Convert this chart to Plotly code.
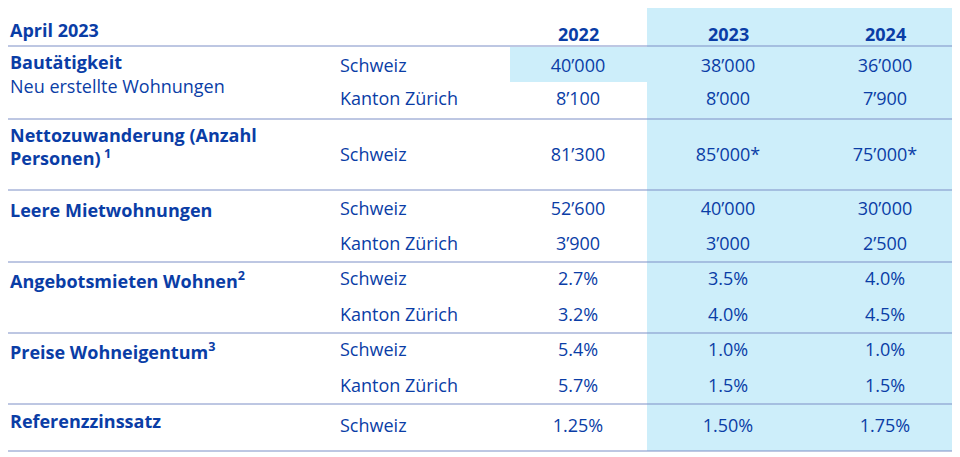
import plotly.graph_objects as go

years = ["2022", "2023", "2024"]
sections = ["Bautätigkeit", "Nettozuwanderung (Anzahl<br>Personen)<sup> 1</sup>", "Leere Mietwohnungen",
            "Angebotsmieten Wohnen<sup>2</sup>", "Preise Wohneigentum<sup>3</sup>", "Referenzzinssatz"]
regions = ["Schweiz", "Kanton Zürich", "Schweiz", "Schweiz", "Kanton Zürich", "Schweiz", "Kanton Zürich",
           "Schweiz", "Kanton Zürich", "Schweiz"]
v2022 = ["40’000", "8’100", "81’300", "52’600", "3’900", "2.7%", "3.2%", "5.4%", "5.7%", "1.25%"]
v2023 = ["38’000", "8’000", "85’000*", "40’000", "3’000", "3.5%", "4.0%", "1.0%", "1.5%", "1.50%"]
v2024 = ["36’000", "7’900", "75’000*", "30’000", "2’500", "4.0%", "4.5%", "1.0%", "1.5%", "1.75%"]

# layout (pixels)
row_y = [67, 100, 156, 210, 245, 280, 316, 351, 387, 427]
sec_y = [62, 146, 210, 280, 351, 421]
rule_y = [46, 119, 190, 262, 333, 404, 451]
col_x = [578, 728, 885]
blue = "#0a3da6"
shade = "#cdeefa"
font = dict(size=18, color=blue, family="Open Sans")

fig = go.Figure()
for xs, vals in zip(col_x, [v2022, v2023, v2024]):
    fig.add_trace(go.Scatter(x=[xs] * len(vals), y=row_y, text=vals, mode="text", textfont=font,
                             textposition="middle center", hoverinfo="skip"))
fig.add_trace(go.Scatter(x=[340] * len(regions), y=row_y, text=regions, mode="text", textfont=font,
                         textposition="middle right", hoverinfo="skip"))

shapes = [dict(type="rect", x0=647, x1=970, y0=0, y1=451, fillcolor=shade, line_width=0, layer="below"),
          dict(type="rect", x0=510, x1=647, y0=47, y1=82, fillcolor=shade, line_width=0, layer="below")]
for y in rule_y:
    shapes.append(dict(type="line", x0=0, x1=970, y0=y, y1=y, line=dict(color="#7d8fc6", width=1)))

ann = [dict(x=8, y=30, text="<b>April 2023</b>", xanchor="left", yanchor="middle", showarrow=False, font=font),
       dict(x=8, y=86, text="Neu erstellte Wohnungen", xanchor="left", yanchor="middle", showarrow=False, font=font)]
for xs, yr in zip(col_x, years):
    ann.append(dict(x=xs, y=34, text="<b>" + yr + "</b>", showarrow=False, yanchor="middle", font=font))
for y, s in zip(sec_y, sections):
    ann.append(dict(x=8, y=y, text="<b>" + s + "</b>", xanchor="left", yanchor="middle", align="left",
                    showarrow=False, font=font))

fig.update_layout(width=960, height=457, margin=dict(l=0, r=0, t=0, b=0), showlegend=False,
                  plot_bgcolor="white", paper_bgcolor="white", shapes=shapes, annotations=ann,
                  xaxis=dict(range=[8, 968], visible=False, fixedrange=True),
                  yaxis=dict(range=[465, 8], visible=False, fixedrange=True))
fig.write_html("out.html")
